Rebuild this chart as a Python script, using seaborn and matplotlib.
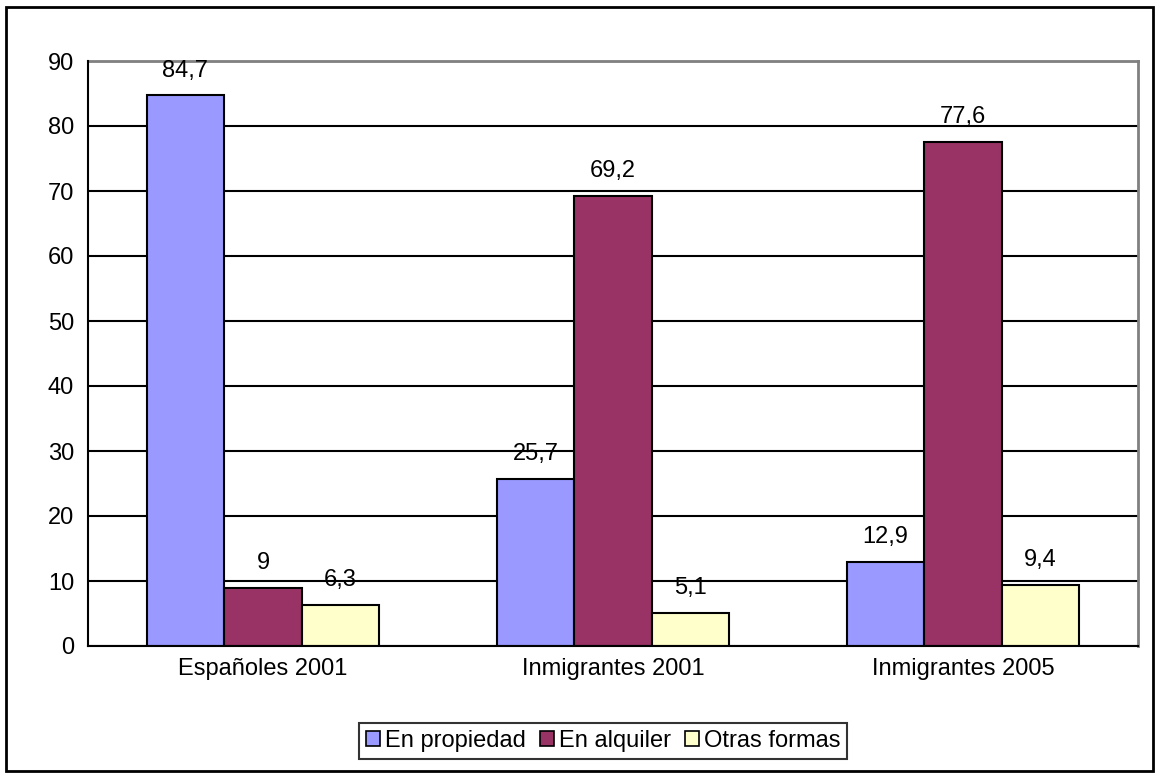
import pandas as pd
import matplotlib
matplotlib.use("Agg")
import matplotlib.pyplot as plt
import seaborn as sns
from matplotlib.ticker import FixedLocator

categories = ["Españoles 2001", "Inmigrantes 2001", "Inmigrantes 2005"]
series = ["En propiedad", "En alquiler", "Otras formas"]
en_propiedad = [84.7, 25.7, 12.9]
en_alquiler = [9, 69.2, 77.6]
otras_formas = [6.3, 5.1, 9.4]
colors = ["#9999FF", "#993366", "#FFFFCC"]

rows = []
for name, vals in zip(series, [en_propiedad, en_alquiler, otras_formas]):
    for cat, v in zip(categories, vals):
        rows.append({"cat": cat, "serie": name, "valor": v})
df = pd.DataFrame(rows)

sns.set_style("white")
plt.rcParams["font.family"] = ["Liberation Sans", "DejaVu Sans"]
plt.rcParams["text.color"] = "black"
plt.rcParams["xtick.color"] = "black"
plt.rcParams["ytick.color"] = "black"

FS = 17

fig = plt.figure(figsize=(11.6, 7.78), dpi=100)
ax = fig.add_axes([88 / 1160, 1 - 646 / 778, (1138 - 88) / 1160, (646 - 61) / 778])

sns.barplot(data=df, x="cat", y="valor", hue="serie", palette=colors,
            width=0.665, gap=0, edgecolor="black", linewidth=1.5,
            saturation=1, ax=ax, legend=False, zorder=3)

for cont in ax.containers:
    labels = [f"{v:g}".replace(".", ",") for v in cont.datavalues]
    ax.bar_label(cont, labels=labels, padding=10, fontsize=FS, color="black")

ax.set_ylim(0, 90)
ax.set_xlim(-0.5, 2.5)
ax.set_yticks(range(0, 91, 10))
ax.yaxis.grid(True, color="black", linewidth=1.5, zorder=0)
ax.set_axisbelow(True)
ax.set_xlabel("")
ax.set_ylabel("")

ax.tick_params(axis="x", which="major", length=0, pad=9, labelsize=FS)
ax.xaxis.set_minor_locator(FixedLocator([-0.5, 0.5, 1.5, 2.5]))
ax.tick_params(axis="x", which="minor", direction="out", length=6, width=1.5, color="black")
ax.tick_params(axis="y", direction="out", length=6, width=1.5, color="black", labelsize=FS, pad=4)

for s in ["left", "bottom"]:
    ax.spines[s].set_color("black")
    ax.spines[s].set_linewidth(1.5)
for s in ["top", "right"]:
    ax.spines[s].set_color("#808080")
    ax.spines[s].set_linewidth(2)
ax.spines["left"].set_zorder(4)
ax.spines["bottom"].set_zorder(4)

handles = [plt.Rectangle((0, 0), 1, 1, facecolor=c, edgecolor="black", linewidth=1.2) for c in colors]
leg = fig.legend(handles, series, loc="center", bbox_to_anchor=(603 / 1160, 1 - 741 / 778),
                 ncol=3, frameon=True, fancybox=False, fontsize=FS,
                 handlelength=0.6, handleheight=0.6, handletextpad=0.2,
                 columnspacing=0.6, borderpad=0.3, edgecolor="black")
leg.get_frame().set_linewidth(1.5)

fig.patches.append(plt.Rectangle((6 / 1160, 7 / 778), 1 - 13 / 1160, 1 - 14 / 778,
                                 transform=fig.transFigure, fill=False,
                                 edgecolor="black", linewidth=2))

fig.savefig("out.png", dpi=100)
